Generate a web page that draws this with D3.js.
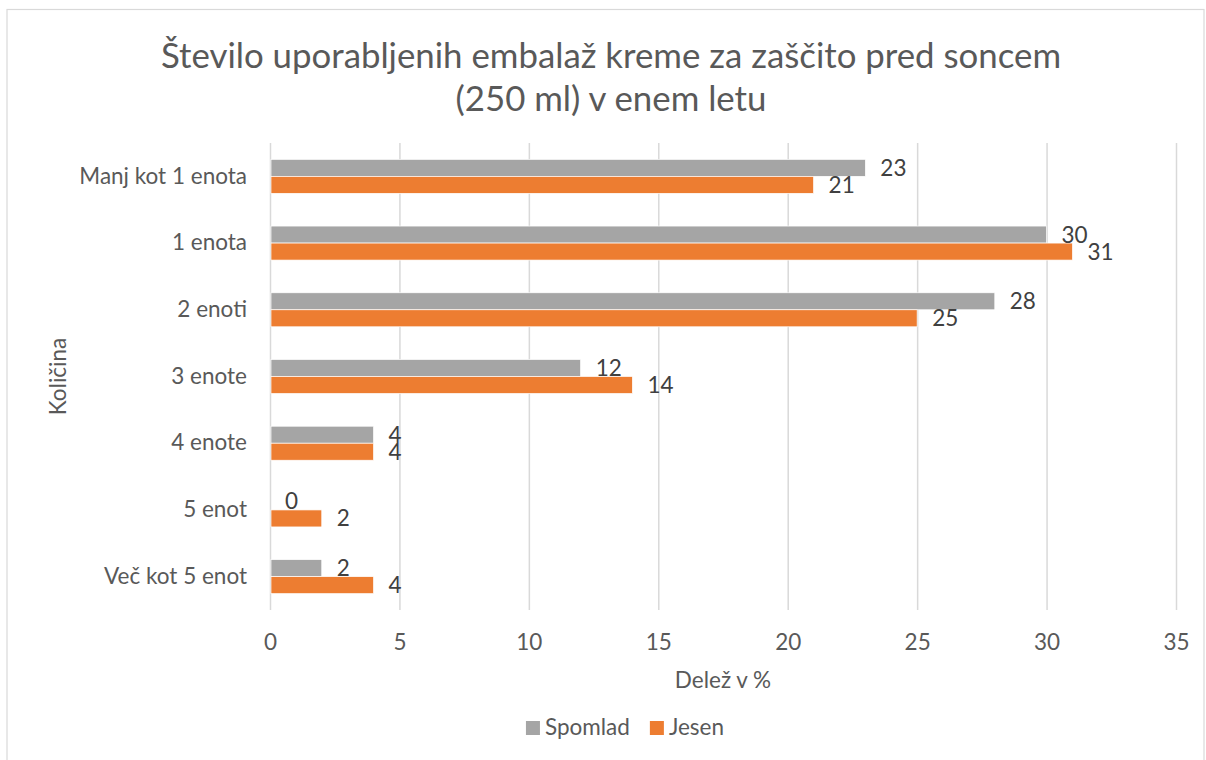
<!DOCTYPE html>
<html><head><meta charset="utf-8">
<script src="https://cdn.jsdelivr.net/npm/d3@7"></script>
<style>
body{margin:0;background:#fff;}
svg text{font-family:Lato, "Open Sans", sans-serif;}
</style></head>
<body><svg id="c" width="1206" height="760"></svg>
<script>
const categories = ["Manj kot 1 enota","1 enota","2 enoti","3 enote","4 enote","5 enot","Več kot 5 enot"];
const spomlad = [23,30,28,12,4,0,2];
const jesen = [21,31,25,14,4,2,4];
const seriesNames = ["Spomlad","Jesen"];
const xTicks = [0,5,10,15,20,25,30,35];
const titleLines = ["Število uporabljenih embalaž kreme za zaščito pred soncem","(250 ml) v enem letu"];
const xTitle = "Delež v %";
const yTitle = "Količina";

const colors = ["#a5a5a5","#ed7d31"];
const FS = 22.5;
const svg = d3.select("#c");
svg.append("rect").attr("x",7).attr("y",9.5).attr("width",1197).attr("height",770)
  .attr("fill","#fff").attr("stroke","#d9d9d9").attr("stroke-width",1.2);

const L=270, R=1176, T=143, B=610;
const x = d3.scaleLinear().domain([0,35]).range([L,R]);
const y = d3.scaleBand().domain(categories).range([T,B]).paddingInner(0.49).paddingOuter(0.245);
const ySub = d3.scaleBand().domain(seriesNames).range([0,y.bandwidth()]);

// title
svg.append("text").attr("x",611).attr("y",68).attr("text-anchor","middle")
  .attr("font-size",34.8).attr("fill","#595959")
  .selectAll("tspan").data(titleLines).join("tspan")
  .attr("x",611).attr("dy",(d,i)=>i?43:0).text(d=>d);

// grid
const gx = svg.append("g").attr("transform",`translate(0,${B})`)
  .call(d3.axisBottom(x).tickValues(xTicks).tickSize(-(B-T)));
gx.select(".domain").remove();
gx.selectAll(".tick line").attr("stroke","#d9d9d9").attr("stroke-width",1.5);
gx.selectAll(".tick text").attr("y",40).attr("dy",0).attr("font-size",FS).attr("fill","#595959").attr("font-family","Lato");

// y axis labels
const gy = svg.append("g").attr("transform",`translate(${L},0)`)
  .call(d3.axisLeft(y).tickSize(0).tickPadding(23));
gy.select(".domain").remove();
gy.selectAll(".tick text").attr("font-size",FS).attr("fill","#595959").attr("font-family","Lato");

// bars
const data = categories.map((c,i)=>({c, vals:[{s:"Spomlad",v:spomlad[i],k:0},{s:"Jesen",v:jesen[i],k:1}]}));
const grp = svg.append("g").selectAll("g").data(data).join("g")
  .attr("transform",d=>`translate(0,${y(d.c)})`);
grp.selectAll("rect").data(d=>d.vals).join("rect")
  .attr("x",x(0)+1).attr("y",d=>ySub(d.s))
  .attr("width",d=>Math.max(0,x(d.v)-x(0)-1)).attr("height",ySub.bandwidth())
  .attr("fill",d=>colors[d.k]).attr("stroke",d=>d.v>0?"#fff":"none").attr("stroke-width",0.7);
grp.selectAll("text").data(d=>d.vals).join("text")
  .attr("x",d=>x(d.v)+15).attr("y",d=>ySub(d.s)+ySub.bandwidth()/2+8)
  .attr("font-size",FS).attr("fill","#404040")
  .text(d=>d.v);

// axis titles
svg.append("text").attr("x",(L+R)/2).attr("y",688).attr("text-anchor","middle")
  .attr("font-size",FS).attr("fill","#595959").text(xTitle);
svg.append("text").attr("transform",`translate(66,${(T+B)/2}) rotate(-90)`).attr("text-anchor","middle")
  .attr("font-size",FS).attr("fill","#595959").text(yTitle);

// legend (centered)
const lg = svg.append("g");
const items = seriesNames.map((s,i)=>{
  const t = lg.append("text").attr("y",735).attr("font-size",FS).attr("fill","#595959").text(s);
  const w = t.node().getComputedTextLength();
  const r = lg.append("rect").attr("y",721).attr("width",14).attr("height",14).attr("fill",colors[i]);
  return {t,r,w:14+5+w};
});
const gap = 20;
const total = d3.sum(items,d=>d.w)+gap*(items.length-1);
let cx = 625 - total/2;
items.forEach(it=>{
  it.r.attr("x",cx);
  it.t.attr("x",cx+19);
  cx += it.w+gap;
});
</script></body></html>
